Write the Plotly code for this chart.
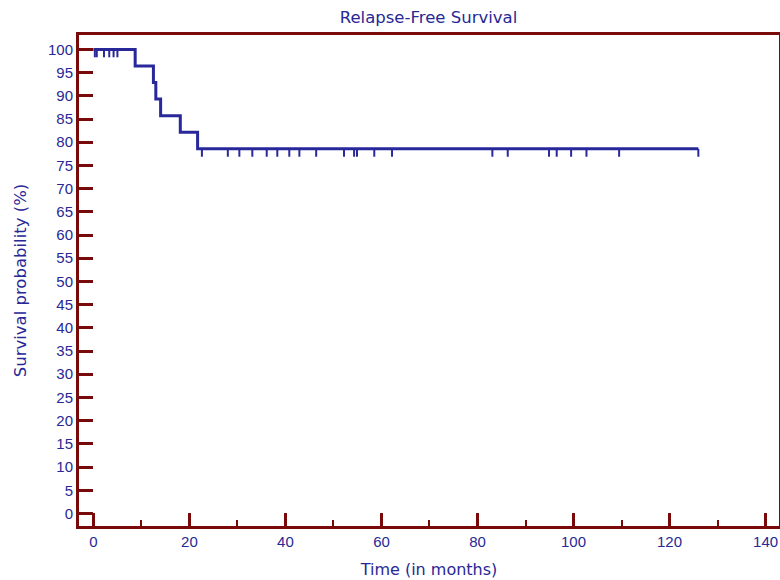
import plotly.graph_objects as go

# Kaplan-Meier data
event_times = [8.7, 12.5, 13.0, 14.0, 18.1, 21.7]
censor_times = [0.3, 0.7, 2.2, 3.3, 4.2, 5.0,
                22.6, 28.0, 30.4, 33.1, 36.1, 38.3, 40.8, 42.9, 46.4, 52.2,
                54.3, 54.9, 58.5, 62.2, 83.1, 86.3, 94.9, 96.5, 99.5, 102.7,
                109.5, 126.0]
x_ticks = [0, 20, 40, 60, 80, 100, 120, 140]
y_ticks = list(range(0, 101, 5))

# Build KM curve
times = sorted([(t, 1) for t in event_times] + [(t, 0) for t in censor_times])
n_at_risk = len(times)
S = 100.0
xs, ys = [0.0], [100.0]
cx, cy = [], []
for t, ev in times:
    if ev:
        xs += [t, t]
        ys += [S, S * (n_at_risk - 1) / n_at_risk]
        S = S * (n_at_risk - 1) / n_at_risk
    else:
        cx += [t, t, None]
        cy += [S, S - 1.7, None]
    n_at_risk -= 1
xs.append(max(censor_times))
ys.append(S)

line_col = "rgb(40,40,155)"
text_col = "rgb(40,40,150)"
axis_col = "rgb(120,10,10)"

W, H = 780, 580

fig = go.Figure()
fig.add_trace(go.Scatter(x=xs, y=ys, mode="lines", line=dict(color=line_col, width=3),
                         showlegend=False, hoverinfo="skip"))
fig.add_trace(go.Scatter(x=cx, y=cy, mode="lines", line=dict(color=line_col, width=2),
                         showlegend=False, hoverinfo="skip"))

tfont = "DejaVu Sans, sans-serif"
font = dict(family="Liberation Sans, Arial, sans-serif", color=text_col, size=15)
fig.update_layout(
    width=W, height=H,
    margin=dict(l=79, r=1, t=35, b=54, autoexpand=False),
    paper_bgcolor="white", plot_bgcolor="white",
    font=font,
    title=dict(text="Relapse-Free Survival", x=428.5 / W, xanchor="center", xref="container",
               y=1 - 17 / H, yref="container", yanchor="middle", automargin=False,
               font=dict(size=16.5, color=text_col, family=tfont)),
    xaxis=dict(range=[-3, 142.8], tickvals=x_ticks, showgrid=False, zeroline=False,
               automargin=False,
               showline=True, linecolor=axis_col, linewidth=3, mirror=True,
               ticks="inside", ticklen=13, tickwidth=3, tickcolor=axis_col,
               minor=dict(ticks="inside", ticklen=6, tickwidth=2, tickcolor=axis_col, dtick=10, tick0=0),
               title=dict(text="Time (in months)", font=dict(size=16, color=text_col, family=tfont),
                          standoff=15),
               tickfont=dict(size=15, color=text_col)),
    yaxis=dict(range=[-2.7, 103.1], tickvals=y_ticks, showgrid=False, zeroline=False,
               automargin=False,
               showline=True, linecolor=axis_col, linewidth=3, mirror=True,
               ticks="inside", ticklen=14, tickwidth=3, tickcolor=axis_col,
               title=dict(text="Survival probability (%)", font=dict(size=16.5, color=text_col, family=tfont),
                          standoff=18),
               tickfont=dict(size=15, color=text_col)),
)
fig.write_html(
    "out.html",
    config={"displayModeBar": False},
    post_script="document.body.style.margin='0';document.body.style.overflow='hidden';"
                "document.documentElement.style.overflow='hidden';",
)
